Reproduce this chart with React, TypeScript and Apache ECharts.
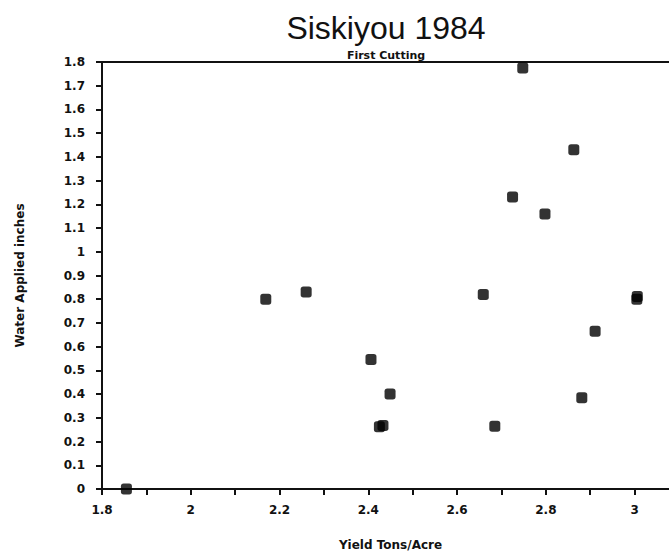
import React, { useEffect, useRef } from "react";
import * as echarts from "echarts";

const titleText = "Siskiyou 1984";
const subtitleText = "First Cutting";
const xAxisName = "Yield Tons/Acre";
const yAxisName = "Water Applied inches";

// Yield (tons/acre)
const yieldValues = [1.855, 2.169, 2.26, 2.406, 2.449, 2.425, 2.433, 2.659, 2.685, 2.725, 2.748, 2.798, 2.863, 2.881, 2.911, 3.005, 3.006];
// Water applied (inches)
const waterValues = [0.0, 0.8, 0.83, 0.546, 0.4, 0.262, 0.268, 0.82, 0.265, 1.231, 1.775, 1.159, 1.43, 0.385, 0.665, 0.8, 0.812];

const FONT = "DejaVu Sans";

export default function App() {
  const ref = useRef<HTMLDivElement>(null);
  useEffect(() => {
    if (!ref.current) return;
    const chart = echarts.init(ref.current, null, { renderer: "svg" });
    const data = yieldValues.map((x, i) => [x, waterValues[i]]);
    chart.setOption({
      animation: false,
      backgroundColor: "#fff",
      title: [
        {
          text: titleText,
          left: 381,
          top: 7,
          textAlign: "center",
          textStyle: { fontFamily: "Liberation Sans", fontSize: 32, fontWeight: "normal", color: "#111" },
        },
        {
          text: subtitleText,
          left: 381,
          top: 45,
          textAlign: "center",
          textStyle: { fontFamily: FONT, fontSize: 11, fontWeight: "bold", color: "#111" },
        },
      ],
      grid: {
        left: 102,
        top: 62,
        bottom: 60,
        right: 21,
        show: true,
        borderColor: "#111",
        borderWidth: 2,
        backgroundColor: "transparent",
      },
      xAxis: {
        type: "value",
        min: 1.8,
        max: 3.1,
        interval: 0.1,
        name: xAxisName,
        nameLocation: "middle",
        nameGap: 50,
        nameTextStyle: { fontFamily: FONT, fontSize: 12, fontWeight: "bold", color: "#111", align: "center" },
        axisLine: { show: true, lineStyle: { color: "#111", width: 2 } },
        axisTick: { show: true, inside: false, length: 6, lineStyle: { color: "#111", width: 2 } },
        splitLine: { show: false },
        axisLabel: {
          margin: 15,
          fontFamily: FONT,
          fontSize: 12,
          fontWeight: "bold",
          color: "#111",
          showMaxLabel: false,
          formatter: (v: number) => {
            const k = Math.round(v * 10);
            if (k % 2 !== 0 || k > 30) return "";
            return String(Math.round(v * 10) / 10);
          },
        },
      },
      yAxis: {
        type: "value",
        min: 0,
        max: 1.8,
        interval: 0.1,
        name: yAxisName,
        nameLocation: "middle",
        nameGap: 76,
        nameRotate: 90,
        nameTextStyle: { fontFamily: FONT, fontSize: 12, fontWeight: "bold", color: "#111" },
        axisLine: { show: true, lineStyle: { color: "#111", width: 2 } },
        axisTick: { show: true, inside: false, length: 6, lineStyle: { color: "#111", width: 2 } },
        splitLine: { show: false },
        axisLabel: {
          margin: 17,
          fontFamily: FONT,
          fontSize: 12,
          fontWeight: "bold",
          color: "#111",
          formatter: (v: number) => String(Math.round(v * 10) / 10),
        },
      },
      series: [
        {
          type: "scatter",
          data,
          symbol: "roundRect",
          symbolSize: 11,
          itemStyle: { color: "#000" },
          clip: false,
        },
      ],
    });
    return () => chart.dispose();
  }, []);
  return (
    <div
      ref={ref}
      style={{ position: "fixed", left: 0, top: 0, width: 700, height: 556, background: "#fff" }}
    />
  );
}
